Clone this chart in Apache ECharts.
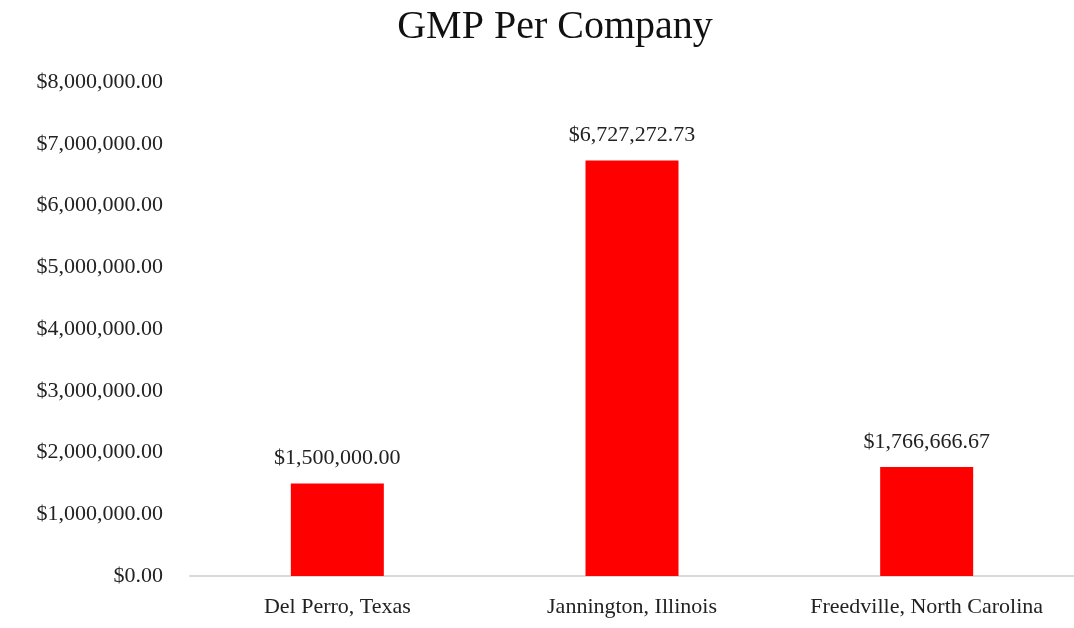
<!DOCTYPE html>
<html>
<head>
<meta charset="utf-8">
<script src="https://cdn.jsdelivr.net/npm/echarts@6/dist/echarts.min.js"></script>
<style>
    html, body { margin: 0; padding: 0; background: #fff; }
    #chart { width: 1074px; height: 628px; }
</style>
</head>
<body>
<div id="chart"></div>
<script>
// chart data
const categories = ['Del Perro, Texas', 'Jannington, Illinois', 'Freedville, North Carolina'];
const gmpValues = [1500000, 6727272.73, 1766666.67];
const yTicks = { min: 0, max: 8000000, step: 1000000 };

const serif = '"Liberation Serif", "DejaVu Serif", serif';

// $1,234,567.89
function money (v) {
    return '$' + Number(v).toLocaleString('en-US', { minimumFractionDigits: 2, maximumFractionDigits: 2 });
}

const chart = echarts.init(document.getElementById('chart'));
chart.setOption({
    animation: false,
    backgroundColor: '#fff',
    title: {
        text: 'GMP Per Company',
        left: 550,
        textAlign: 'center',
        top: 2,
        textStyle: { fontFamily: serif, fontSize: 40, fontWeight: 'normal', color: '#111' }
    },
    grid: { left: 190, right: 0, top: 82, bottom: 52 },
    xAxis: {
        type: 'category',
        data: categories,
        axisLine: { lineStyle: { color: '#d9d9d9', width: 2 } },
        axisTick: { show: false },
        axisLabel: { interval: 0, fontFamily: serif, fontSize: 22, color: '#222', margin: 20 }
    },
    yAxis: {
        type: 'value',
        min: yTicks.min,
        max: yTicks.max,
        interval: yTicks.step,
        splitLine: { show: false },
        axisLine: { show: false },
        axisTick: { show: false },
        axisLabel: { fontFamily: serif, fontSize: 22, color: '#222', margin: 27, formatter: money }
    },
    series: [{
        type: 'bar',
        data: gmpValues,
        barWidth: 93,
        itemStyle: { color: '#ff0000' },
        label: {
            show: true,
            position: 'top',
            distance: 14,
            fontFamily: serif,
            fontSize: 22,
            color: '#222',
            formatter: p => money(p.value)
        }
    }]
});
</script>
</body>
</html>
